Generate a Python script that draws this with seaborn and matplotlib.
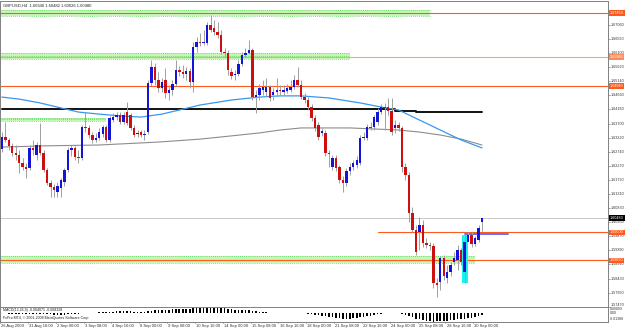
import numpy as np
import pandas as pd
import seaborn as sns
import matplotlib.pyplot as plt
from matplotlib.transforms import blended_transform_factory

sns.set_style("white")
plt.rcParams['font.family'] = ['Liberation Sans', 'DejaVu Sans']

# GBPUSD H4 candles
opens = [1.6283, 1.6324, 1.6314, 1.6294, 1.6270, 1.6263, 1.6236, 1.6222, 1.6219, 1.6287,
         1.6263, 1.6297, 1.6270, 1.6212, 1.6168, 1.6154, 1.6137, 1.6151, 1.6171, 1.6212,
         1.6280, 1.6287, 1.6256, 1.6253, 1.6358, 1.6355, 1.6331, 1.6314, 1.6321, 1.6334,
         1.6358, 1.6314, 1.6382, 1.6392, 1.6399, 1.6375, 1.6409, 1.6399, 1.6355, 1.6334,
         1.6341, 1.6331, 1.6341, 1.6508, 1.6562, 1.6518, 1.6491, 1.6518, 1.6474, 1.6484,
         1.6504, 1.6552, 1.6545, 1.6538, 1.6549, 1.6511, 1.6630, 1.6647, 1.6644, 1.6644,
         1.6705, 1.6695, 1.6681, 1.6671, 1.6613, 1.6610, 1.6545, 1.6535, 1.6538, 1.6572,
         1.6603, 1.6610, 1.6620, 1.6460, 1.6467, 1.6484, 1.6477, 1.6494, 1.6467, 1.6477,
         1.6484, 1.6477, 1.6481, 1.6484, 1.6494, 1.6518, 1.6501, 1.6460, 1.6450, 1.6426,
         1.6389, 1.6365, 1.6338, 1.6338, 1.6270, 1.6222, 1.6253, 1.6222, 1.6178, 1.6168,
         1.6209, 1.6222, 1.6229, 1.6236, 1.6321, 1.6321, 1.6358, 1.6358, 1.6375, 1.6409,
         1.6426, 1.6426, 1.6413, 1.6355, 1.6365, 1.6355, 1.6222, 1.6195, 1.6066, 1.6008,
         1.6001, 1.6025, 1.5964, 1.5957, 1.5954, 1.5828, 1.5831, 1.5913, 1.5845, 1.5865,
         1.5899, 1.5906, 1.5940, 1.5865, 1.5967, 1.5991, 1.5960, 1.5974, 1.6034]
highs = [1.6341, 1.6375, 1.6321, 1.6304, 1.6297, 1.6280, 1.6253, 1.6236, 1.6297, 1.6314,
         1.6307, 1.6372, 1.6280, 1.6219, 1.6178, 1.6164, 1.6171, 1.6185, 1.6219, 1.6290,
         1.6297, 1.6294, 1.6280, 1.6365, 1.6409, 1.6365, 1.6341, 1.6338, 1.6355, 1.6365,
         1.6365, 1.6396, 1.6406, 1.6409, 1.6409, 1.6409, 1.6443, 1.6406, 1.6365, 1.6348,
         1.6348, 1.6348, 1.6518, 1.6586, 1.6576, 1.6545, 1.6525, 1.6559, 1.6501, 1.6518,
         1.6586, 1.6566, 1.6569, 1.6562, 1.6559, 1.6647, 1.6664, 1.6678, 1.6688, 1.6715,
         1.6739, 1.6722, 1.6715, 1.6688, 1.6627, 1.6620, 1.6559, 1.6552, 1.6586, 1.6613,
         1.6627, 1.6654, 1.6627, 1.6484, 1.6504, 1.6518, 1.6525, 1.6501, 1.6491, 1.6525,
         1.6501, 1.6501, 1.6504, 1.6518, 1.6535, 1.6562, 1.6518, 1.6474, 1.6460, 1.6436,
         1.6399, 1.6375, 1.6355, 1.6348, 1.6280, 1.6263, 1.6263, 1.6229, 1.6192, 1.6219,
         1.6236, 1.6246, 1.6260, 1.6331, 1.6341, 1.6368, 1.6375, 1.6399, 1.6423, 1.6436,
         1.6440, 1.6457, 1.6457, 1.6382, 1.6375, 1.6362, 1.6236, 1.6205, 1.6086, 1.6025,
         1.6052, 1.6042, 1.5981, 1.5967, 1.5964, 1.5845, 1.5920, 1.5923, 1.5889, 1.5899,
         1.5933, 1.5957, 1.5947, 1.5991, 1.6001, 1.6001, 1.5988, 1.6025, 1.6048]
lows = [1.6273, 1.6307, 1.6280, 1.6260, 1.6246, 1.6202, 1.6212, 1.6185, 1.6212, 1.6263,
        1.6246, 1.6263, 1.6205, 1.6161, 1.6120, 1.6120, 1.6120, 1.6120, 1.6158, 1.6205,
        1.6260, 1.6246, 1.6236, 1.6246, 1.6341, 1.6321, 1.6304, 1.6307, 1.6314, 1.6324,
        1.6307, 1.6307, 1.6375, 1.6382, 1.6368, 1.6368, 1.6365, 1.6348, 1.6324, 1.6324,
        1.6324, 1.6314, 1.6334, 1.6498, 1.6501, 1.6477, 1.6477, 1.6457, 1.6450, 1.6467,
        1.6498, 1.6532, 1.6525, 1.6518, 1.6491, 1.6477, 1.6613, 1.6634, 1.6637, 1.6637,
        1.6681, 1.6671, 1.6661, 1.6606, 1.6596, 1.6535, 1.6521, 1.6518, 1.6532, 1.6566,
        1.6596, 1.6606, 1.6450, 1.6406, 1.6450, 1.6467, 1.6464, 1.6447, 1.6450, 1.6464,
        1.6467, 1.6467, 1.6474, 1.6477, 1.6487, 1.6494, 1.6453, 1.6440, 1.6416, 1.6379,
        1.6345, 1.6314, 1.6328, 1.6260, 1.6222, 1.6212, 1.6209, 1.6168, 1.6137, 1.6158,
        1.6195, 1.6212, 1.6219, 1.6229, 1.6314, 1.6314, 1.6348, 1.6348, 1.6365, 1.6402,
        1.6348, 1.6399, 1.6331, 1.6338, 1.6345, 1.6205, 1.6178, 1.6035, 1.6001, 1.5923,
        1.5940, 1.5950, 1.5947, 1.5940, 1.5811, 1.5780, 1.5804, 1.5838, 1.5828, 1.5852,
        1.5889, 1.5872, 1.5889, 1.5828, 1.5974, 1.5950, 1.5954, 1.5967, 1.6003]
closes = [1.6324, 1.6314, 1.6294, 1.6270, 1.6263, 1.6236, 1.6222, 1.6215, 1.6287, 1.6280,
          1.6297, 1.6270, 1.6212, 1.6168, 1.6154, 1.6144, 1.6158, 1.6178, 1.6212, 1.6280,
          1.6287, 1.6256, 1.6253, 1.6358, 1.6355, 1.6331, 1.6314, 1.6321, 1.6341, 1.6358,
          1.6314, 1.6389, 1.6392, 1.6399, 1.6375, 1.6399, 1.6372, 1.6355, 1.6331, 1.6338,
          1.6331, 1.6334, 1.6508, 1.6562, 1.6518, 1.6491, 1.6511, 1.6474, 1.6484, 1.6504,
          1.6552, 1.6545, 1.6538, 1.6549, 1.6511, 1.6630, 1.6647, 1.6644, 1.6647, 1.6705,
          1.6688, 1.6681, 1.6671, 1.6613, 1.6610, 1.6552, 1.6532, 1.6538, 1.6572, 1.6603,
          1.6610, 1.6620, 1.6460, 1.6467, 1.6491, 1.6494, 1.6494, 1.6457, 1.6477, 1.6484,
          1.6481, 1.6484, 1.6491, 1.6494, 1.6518, 1.6501, 1.6460, 1.6450, 1.6426, 1.6389,
          1.6355, 1.6324, 1.6345, 1.6270, 1.6266, 1.6253, 1.6219, 1.6178, 1.6168, 1.6209,
          1.6222, 1.6236, 1.6246, 1.6321, 1.6324, 1.6358, 1.6355, 1.6392, 1.6409, 1.6426,
          1.6423, 1.6413, 1.6341, 1.6365, 1.6355, 1.6222, 1.6195, 1.6066, 1.6008, 1.5933,
          1.6025, 1.5964, 1.5957, 1.5954, 1.5828, 1.5821, 1.5913, 1.5852, 1.5865, 1.5889,
          1.5913, 1.5940, 1.5899, 1.5967, 1.5991, 1.5960, 1.5981, 1.6015, 1.6048]

# blue (fast) and grey (slow) moving averages, sampled along the chart
ma_fast_bar = [0, 5, 11, 17, 22, 28, 34, 40, 46, 51, 57, 66, 74, 80, 86, 94, 103, 109, 114, 120, 126, 132, 138]
ma_fast_val = [1.6460, 1.6453, 1.6440, 1.6423, 1.6409, 1.6402, 1.6396, 1.6392, 1.6402, 1.6416, 1.6433, 1.6450,
               1.6460, 1.6464, 1.6464, 1.6457, 1.6440, 1.6426, 1.6416, 1.6382, 1.6348, 1.6314, 1.6287]
ma_slow_bar = [0, 12, 28, 45, 57, 66, 74, 80, 86, 100, 114, 120, 126, 132, 138]
ma_slow_val = [1.6290, 1.6294, 1.6297, 1.6307, 1.6317, 1.6328, 1.6338, 1.6348, 1.6355, 1.6355, 1.6348,
               1.6341, 1.6331, 1.6317, 1.6297]
# black daily line (steps)
daily_bar = [0, 113, 119, 138]
daily_val = [1.6418, 1.6414, 1.6408, 1.6408]

# MACD histogram
macd = [-0.0010, -0.0012, -0.0014, -0.0015, -0.0017, -0.0019, -0.0021, -0.0022, -0.0021, -0.0020,
        -0.0019, -0.0019, -0.0021, -0.0024, -0.0028, -0.0031, -0.0032, -0.0032, -0.0030, -0.0025,
        -0.0020, -0.0018, -0.0015, -0.0009, -0.0004, -0.0001, 0.0001, 0.0002, 0.0004, 0.0007,
        0.0006, 0.0012, 0.0016, 0.0019, 0.0020, 0.0022, 0.0021, 0.0019, 0.0015, 0.0012,
        0.0009, 0.0007, 0.0020, 0.0034, 0.0042, 0.0045, 0.0048, 0.0048, 0.0048, 0.0050,
        0.0055, 0.0058, 0.0060, 0.0061, 0.0059, 0.0068, 0.0075, 0.0080, 0.0084, 0.0089,
        0.0089, 0.0088, 0.0086, 0.0080, 0.0074, 0.0064, 0.0055, 0.0048, 0.0045, 0.0044,
        0.0043, 0.0042, 0.0030, 0.0020, 0.0013, 0.0009, 0.0006, 0.0002, 0.0000, -0.0001,
        -0.0002, -0.0003, -0.0003, -0.0002, 0.0001, 0.0002, -0.0003, -0.0008, -0.0014, -0.0023,
        -0.0033, -0.0043, -0.0049, -0.0060, -0.0068, -0.0072, -0.0078, -0.0086, -0.0092, -0.0093,
        -0.0092, -0.0089, -0.0085, -0.0074, -0.0064, -0.0054, -0.0045, -0.0035, -0.0025, -0.0016,
        -0.0010, -0.0005, -0.0006, -0.0006, -0.0006, -0.0017, -0.0029, -0.0050, -0.0070, -0.0092,
        -0.0104, -0.0116, -0.0124, -0.0130, -0.0139, -0.0137, -0.0131, -0.0128, -0.0125, -0.0120,
        -0.0114, -0.0106, -0.0102, -0.0092, -0.0083, -0.0076, -0.0068, -0.0058, -0.0041]

price_ticks = [1.67060, 1.66590, 1.66100, 1.65620, 1.65140, 1.64660, 1.64180, 1.63700, 1.63220,
               1.62740, 1.62270, 1.61790, 1.61310, 1.60830, 1.60350, 1.59870, 1.59390, 1.58910,
               1.58430, 1.57950, 1.57470]
date_bars = [0, 8, 16, 24, 32, 40, 48, 56, 64, 72, 80, 88, 96, 104, 112, 120, 128, 136]
date_labels = ["26 Aug 2009", "31 Aug 16:00", "2 Sep 00:00", "3 Sep 08:00", "4 Sep 16:00",
               "8 Sep 00:00", "9 Sep 08:00", "10 Sep 16:00", "14 Sep 00:00", "15 Sep 08:00",
               "16 Sep 16:00", "18 Sep 00:00", "21 Sep 08:00", "22 Sep 16:00", "24 Sep 00:00",
               "25 Sep 08:00", "28 Sep 16:00", "30 Sep 00:00"]

# support / resistance levels: price, start bar, colour, label colour
levels = [(1.67450, -1, "#ff5a1e", "#ff5a1e"), (1.65960, -1, "#ffa07a", "#ff8a5a"),
          (1.64980, -1, "#ff5a1e", "#ff5a1e"), (1.60000, 108, "#ff5a1e", "#ff5a1e"),
          (1.59050, -1, "#ff5a1e", "#ff5a1e")]
# green zones: low, high, end bar
zones = [(1.67356, 1.67560, 123), (1.65894, 1.66098, 100), (1.63769, 1.63905, 30), (1.58958, 1.59179, 136)]

df = pd.DataFrame({"open": opens, "high": highs, "low": lows, "close": closes})
df["bar"] = np.arange(len(df))
df["up"] = df["close"] >= df["open"]

fig = plt.figure(figsize=(6.25, 3.3), dpi=100)
ax = fig.add_axes([0, 23.5 / 330, 608 / 625, 305.5 / 330])
axm = fig.add_axes([0, 8.5 / 330, 608 / 625, 14.5 / 330])
x0, x1 = -0.52, 174.2
y0, y1 = 1.57479, 1.67866
fs = 2.7

for lo, hi, end in zones:
    ax.fill_between([x0, end], lo, hi, color="#c4f7b8", lw=0, zorder=1)
    for yy in (lo, hi, (lo + hi) / 2):
        ax.plot([x0, end], [yy, yy], color="#52d652", lw=0.6, ls=(0, (1, 1.5)), zorder=1)

for p, start, col, _ in levels:
    ax.plot([start if start > 0 else x0, x1], [p, p], color=col, lw=0.8, zorder=2)

ax.axhline(1.60480, color="#c0c0c0", lw=0.6, zorder=1)
ax.fill_between([132.3, 134.0], 1.5828, 1.5991, color="#1ef0f0", lw=0, zorder=2)
ax.plot([133, 145.5], [1.5994, 1.5994], color="#6a6aff", lw=1.4, zorder=3)

ax.step(daily_bar, daily_val, where="post", color="#111111", lw=1.4, zorder=2)
sns.lineplot(x=ma_slow_bar, y=ma_slow_val, ax=ax, color="#8c8c8c", lw=0.8, zorder=2)
sns.lineplot(x=ma_fast_bar, y=ma_fast_val, ax=ax, color="#3a96ee", lw=0.9, zorder=2)

ax.vlines(df["bar"], df["low"], df["high"], color="#a0a0a0", lw=0.7, zorder=4)
body = (df["close"] - df["open"]).abs().clip(lower=0.00012)
bottom = df[["open", "close"]].min(axis=1)
colors = np.where(df["up"], "#1414d8", "#cc1010")
ax.bar(df["bar"], body, bottom=bottom, width=0.7, color=colors, lw=0, zorder=5)

ax.set_xlim(x0, x1)
ax.set_ylim(y0, y1)
ax.set_xticks([])
ax.set_yticks([])
for s in ax.spines.values():
    s.set_color("#808080")
    s.set_linewidth(0.7)

tr = blended_transform_factory(ax.transAxes, ax.transData)
for p in price_ticks:
    va = "bottom" if p < y0 else "center"
    ax.text(1 + 3 / 608, p, f"{p:.5f}", transform=tr, fontsize=fs, va=va, ha="left", color="#333333")
    ax.plot([1, 1 + 2 / 608], [p, p], transform=tr, color="#808080", lw=0.5, clip_on=False)
for p, _, _, bc in levels:
    ax.text(1 + 2 / 608, p, f"{p:.5f}", transform=tr, fontsize=fs, va="center", ha="left", color="white",
            bbox=dict(boxstyle="square,pad=0.2", fc=bc, ec="none"))
ax.text(1 + 2 / 608, 1.60480, "1.60480", transform=tr, fontsize=fs, va="center", ha="left", color="white",
        bbox=dict(boxstyle="square,pad=0.2", fc="black", ec="none"))

ax.text(3 / 608, 1 - 5 / 305.5, "GBPUSD,H4  1.60340 1.60482 1.60026 1.60480", transform=ax.transAxes,
        fontsize=3, va="center", ha="left", color="#222222")

# MACD panel
axm.bar(df["bar"], macd, width=0.45, color="black", lw=0)
axm.set_xlim(x0, x1)
axm.set_ylim(-0.01388, 0.00893)
axm.set_xticks([])
axm.set_yticks([])
for s in axm.spines.values():
    s.set_color("#808080")
    s.set_linewidth(0.7)
axm.text(3 / 608, 0.8, "MACD(12,26,9) -0.004071 -0.008328", transform=axm.transAxes, fontsize=2.6,
         va="center", ha="left", color="#222222")
axm.text(3 / 608, 0.22, "FxPro MT4, \u00a9 2001-2008 MetaQuotes Software Corp.", transform=axm.transAxes,
         fontsize=2.6, va="center", ha="left", color="#222222")
trm = blended_transform_factory(axm.transAxes, axm.transData)
for v, t, va in [(0.00893, "0.00893", "top"), (0.0, "0.00", "center"), (-0.01388, "-0.01388", "bottom")]:
    axm.text(1 + 2 / 608, v, t, transform=trm, fontsize=2.5, va=va, ha="left", color="#333333")

trd = blended_transform_factory(axm.transData, fig.transFigure)
for b, lab in zip(date_bars, date_labels):
    axm.text(b - 0.2, 4 / 330, lab, transform=trd, fontsize=3, va="center", ha="left", color="#333333")
    axm.plot([b - 0.5, b - 0.5], [7 / 330, 8.5 / 330], transform=trd, color="#808080", lw=0.5, clip_on=False)

fig.savefig("out.png", dpi=100, facecolor="white")
